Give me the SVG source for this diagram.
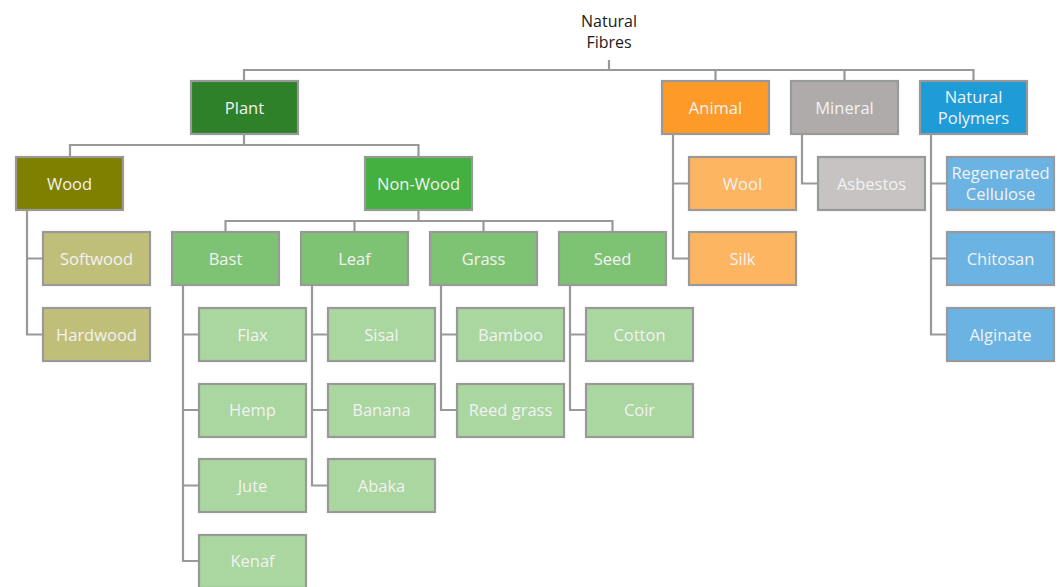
<svg xmlns="http://www.w3.org/2000/svg" width="1063" height="587" viewBox="0 0 1063 587">
<style>
.b{stroke:#999999;stroke-width:2.2}
.t{font-family:"Open Sans","Liberation Sans",sans-serif;font-size:16.5px;fill:#F2F2F2;text-anchor:middle;dominant-baseline:central}
.c{fill:none;stroke:#999999;stroke-width:2.2}
.r{font-family:"Open Sans","Liberation Sans",sans-serif;font-size:16px;fill:#1a1a1a;text-anchor:middle;dominant-baseline:central}
</style>
<rect width="1063" height="587" fill="#ffffff"/>
<g id="connectors">
<path class="c" d="M609 60V70M244 81V70H973.5V81M715.5 70V81M844.5 70V81"/>
<path class="c" d="M244 134V145M70 157V145H418.5V157"/>
<path class="c" d="M418.5 210V221M225.5 232V221H612.5V232M354.5 221V232M483.5 221V232"/>
<path class="c" d="M27 210V334.5H43M27 258.5H43"/>
<path class="c" d="M183 285V561H199M183 334.5H199M183 410H199M183 485.5H199"/>
<path class="c" d="M312 285V485.5H328M312 334.5H328M312 410H328"/>
<path class="c" d="M441 285V410H457M441 334.5H457"/>
<path class="c" d="M570 285V410H586M570 334.5H586"/>
<path class="c" d="M673 134V258.5H689M673 183.5H689"/>
<path class="c" d="M802 134V183.5H818"/>
<path class="c" d="M931 134V334.5H947M931 183.5H947M931 258.5H947"/>
</g>
<g id="root"><text class="r" x="609" y="20.5">Natural</text><text class="r" x="609" y="41.5">Fibres</text></g>
<g id="plant"><rect class="b" x="191" y="81" width="107" height="53" fill="#2E8129"/><text class="t" x="244.5" y="107">Plant</text></g>
<g id="animal"><rect class="b" x="662" y="81" width="107" height="53" fill="#FD9A28"/><text class="t" x="715.5" y="107">Animal</text></g>
<g id="mineral"><rect class="b" x="791" y="81" width="107" height="53" fill="#AFABAA"/><text class="t" x="844.5" y="107">Mineral</text></g>
<g id="polymers"><rect class="b" x="920" y="81" width="107" height="53" fill="#1E9CD8"/><text class="t" x="973.5" y="96.5">Natural</text><text class="t" x="973.5" y="117.5">Polymers</text></g>
<g id="wood"><rect class="b" x="16" y="157" width="107" height="53" fill="#808000"/><text class="t" x="69.5" y="183">Wood</text></g>
<g id="nonwood"><rect class="b" x="365" y="157" width="107" height="53" fill="#43B040"/><text class="t" x="418.5" y="183">Non-Wood</text></g>
<g id="wool"><rect class="b" x="689" y="157" width="107" height="53" fill="#FEB562"/><text class="t" x="742.5" y="183">Wool</text></g>
<g id="asbestos"><rect class="b" x="818" y="157" width="107" height="53" fill="#C6C3C2"/><text class="t" x="871.5" y="183">Asbestos</text></g>
<g id="regcell"><rect class="b" x="947" y="157" width="107" height="53" fill="#6AB3E3"/><text class="t" x="1000.5" y="172.5">Regenerated</text><text class="t" x="1000.5" y="193.5">Cellulose</text></g>
<g id="softwood"><rect class="b" x="43" y="232" width="107" height="53" fill="#C0BF7A"/><text class="t" x="96.5" y="258">Softwood</text></g>
<g id="bast"><rect class="b" x="172" y="232" width="107" height="53" fill="#7EC373"/><text class="t" x="225.5" y="258">Bast</text></g>
<g id="leaf"><rect class="b" x="301" y="232" width="107" height="53" fill="#7EC373"/><text class="t" x="354.5" y="258">Leaf</text></g>
<g id="grass"><rect class="b" x="430" y="232" width="107" height="53" fill="#7EC373"/><text class="t" x="483.5" y="258">Grass</text></g>
<g id="seed"><rect class="b" x="559" y="232" width="107" height="53" fill="#7EC373"/><text class="t" x="612.5" y="258">Seed</text></g>
<g id="silk"><rect class="b" x="689" y="232" width="107" height="53" fill="#FEB562"/><text class="t" x="742.5" y="258">Silk</text></g>
<g id="chitosan"><rect class="b" x="947" y="232" width="107" height="53" fill="#6AB3E3"/><text class="t" x="1000.5" y="258">Chitosan</text></g>
<g id="hardwood"><rect class="b" x="43" y="308" width="107" height="53" fill="#C0BF7A"/><text class="t" x="96.5" y="334">Hardwood</text></g>
<g id="flax"><rect class="b" x="199" y="308" width="107" height="53" fill="#AAD6A0"/><text class="t" x="252.5" y="334">Flax</text></g>
<g id="sisal"><rect class="b" x="328" y="308" width="107" height="53" fill="#AAD6A0"/><text class="t" x="381.5" y="334">Sisal</text></g>
<g id="bamboo"><rect class="b" x="457" y="308" width="107" height="53" fill="#AAD6A0"/><text class="t" x="510.5" y="334">Bamboo</text></g>
<g id="cotton"><rect class="b" x="586" y="308" width="107" height="53" fill="#AAD6A0"/><text class="t" x="639.5" y="334">Cotton</text></g>
<g id="alginate"><rect class="b" x="947" y="308" width="107" height="53" fill="#6AB3E3"/><text class="t" x="1000.5" y="334">Alginate</text></g>
<g id="hemp"><rect class="b" x="199" y="384" width="107" height="53" fill="#AAD6A0"/><text class="t" x="252.5" y="409.5">Hemp</text></g>
<g id="banana"><rect class="b" x="328" y="384" width="107" height="53" fill="#AAD6A0"/><text class="t" x="381.5" y="409.5">Banana</text></g>
<g id="reedgrass"><rect class="b" x="457" y="384" width="107" height="53" fill="#AAD6A0"/><text class="t" x="510.5" y="409.5">Reed grass</text></g>
<g id="coir"><rect class="b" x="586" y="384" width="107" height="53" fill="#AAD6A0"/><text class="t" x="639.5" y="409.5">Coir</text></g>
<g id="jute"><rect class="b" x="199" y="459" width="107" height="53" fill="#AAD6A0"/><text class="t" x="252.5" y="485">Jute</text></g>
<g id="abaka"><rect class="b" x="328" y="459" width="107" height="53" fill="#AAD6A0"/><text class="t" x="381.5" y="485">Abaka</text></g>
<g id="kenaf"><rect class="b" x="199" y="535" width="107" height="53" fill="#AAD6A0"/><text class="t" x="252.5" y="560.5">Kenaf</text></g>
</svg>
